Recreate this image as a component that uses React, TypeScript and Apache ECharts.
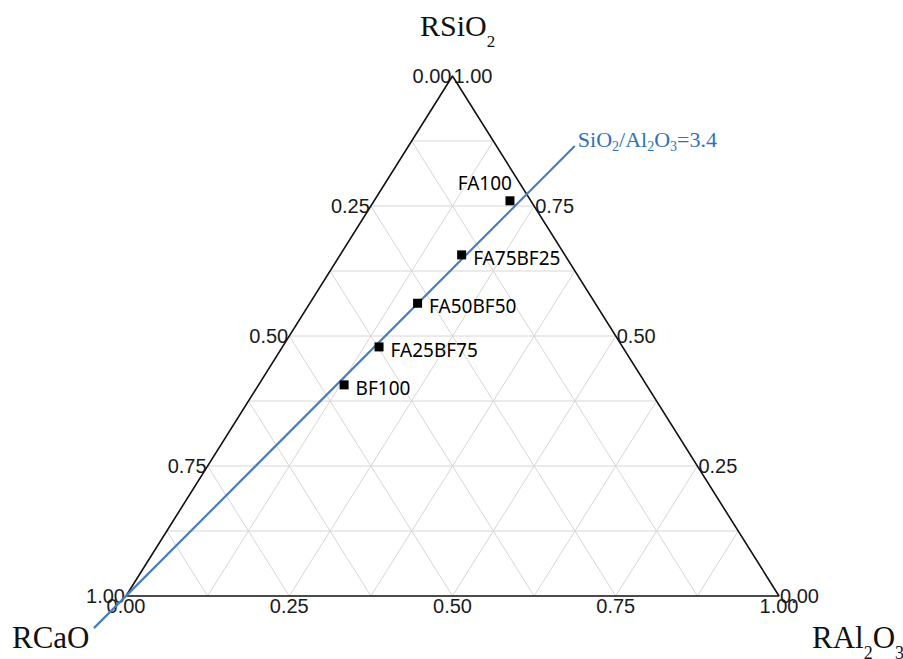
import React, { useEffect, useRef } from "react";
import * as echarts from "echarts";

// Sample compositions (mass fractions, normalised to SiO2 + Al2O3 + CaO = 1)
const sampleNames = ["FA100", "FA75BF25", "FA50BF50", "FA25BF75", "BF100"];
const sio2 = [0.76, 0.656, 0.563, 0.479, 0.406];
const al2o3 = [0.208, 0.186, 0.165, 0.148, 0.131];
const cao = [0.032, 0.158, 0.272, 0.373, 0.463];

// Axis ticks and the finer grid fractions
const axisTicks = [0, 0.25, 0.5, 0.75, 1];
const gridSteps = [0.125, 0.25, 0.375, 0.5, 0.625, 0.75, 0.875];

// Constant SiO2/Al2O3 ratio line through the CaO apex
const ratioValue = 3.4;
const ratioSpan = [-0.08, 1.12]; // range of (SiO2 + Al2O3) along the line

// ternary (SiO2, Al2O3) -> cartesian; CaO apex at (0,0), Al2O3 apex at (1,0), SiO2 apex at (0.5,1)
const toXY = (s: number, a: number): [number, number] => [a + s / 2, s];

const TICK_FONT = "'Liberation Sans', Arial, sans-serif";
const SERIF = "'Liberation Serif', 'Times New Roman', serif";
const LABEL_FONT = "'Noto Sans', 'Open Sans', sans-serif";
const BLUE_LINE = "#4a7ebb";
const BLUE_TEXT = "#2e72b6";

export default function App() {
  const ref = useRef<HTMLDivElement>(null);

  useEffect(() => {
    if (!ref.current) return;
    const chart = echarts.init(ref.current, undefined, { renderer: "svg" });

    // grid segments: constant SiO2, constant Al2O3, constant CaO
    const gridSegs: number[][] = [];
    gridSteps.forEach((f) => {
      const r = 1 - f;
      gridSegs.push([...toXY(f, 0), ...toXY(f, r)]);
      gridSegs.push([...toXY(0, f), ...toXY(r, f)]);
      gridSegs.push([...toXY(r, 0), ...toXY(0, r)]);
    });

    // tick label anchors for the three edges
    const tickItems: any[] = [];
    axisTicks.forEach((v) => {
      // left edge: CaO fraction (Al2O3 = 0)
      tickItems.push({ value: [...toXY(1 - v, 0), v, 0] });
      // right edge: SiO2 fraction (CaO = 0)
      tickItems.push({ value: [...toXY(v, 1 - v), v, 1] });
      // base: Al2O3 fraction (SiO2 = 0)
      tickItems.push({ value: [...toXY(0, v), v, 2] });
    });

    const points = sampleNames.map((name, i) => {
      const item: any = { name, value: toXY(sio2[i], al2o3[i]), cao: cao[i] };
      if (name === "FA100") {
        item.label = {
          position: [6.5, -13.5],
          align: "right",
          verticalAlign: "middle",
          offset: [0, 0],
        };
      }
      return item;
    });

    const [r0, r1] = ratioSpan.map((t) =>
      toXY((t * ratioValue) / (1 + ratioValue), t / (1 + ratioValue))
    );

    const subRich = (size: number, sub: number, lh: number, color: string) => ({
      m: { fontSize: size, fontFamily: SERIF, lineHeight: lh, fill: color },
      s: { fontSize: sub, fontFamily: SERIF, lineHeight: sub, verticalAlign: "bottom", fill: color },
    });

    chart.setOption({
      animation: false,
      backgroundColor: "#ffffff",
      grid: { left: 126, top: 76, width: 653, height: 520 },
      xAxis: { type: "value", min: 0, max: 1, show: false },
      yAxis: { type: "value", min: 0, max: 1, show: false },
      graphic: [
        {
          type: "text",
          x: 420,
          y: 25,
          style: {
            text: "{m|RSiO}{s|2}",
            align: "left",
            verticalAlign: "middle",
            rich: subRich(30, 17, 50, "#111"),
          },
        },
        {
          type: "text",
          x: 12,
          y: 637,
          style: {
            text: "RCaO",
            align: "left",
            verticalAlign: "middle",
            fontSize: 31,
            fontFamily: SERIF,
            fill: "#111",
          },
        },
        {
          type: "text",
          x: 812,
          y: 637,
          style: {
            text: "{m|RAl}{s|2}{m|O}{s|3}",
            align: "left",
            verticalAlign: "middle",
            rich: subRich(31, 18, 50, "#111"),
          },
        },
      ],
      series: [
        {
          type: "custom",
          name: "grid",
          clip: false,
          silent: true,
          z: 1,
          data: gridSegs,
          renderItem: (params: any, api: any) => {
            const p1 = api.coord([api.value(0), api.value(1)]);
            const p2 = api.coord([api.value(2), api.value(3)]);
            return {
              type: "line",
              shape: { x1: p1[0], y1: p1[1], x2: p2[0], y2: p2[1] },
              style: { stroke: "#d6d6d6", lineWidth: 1 },
            };
          },
        },
        {
          type: "line",
          name: "outline",
          clip: false,
          silent: true,
          z: 2,
          symbol: "none",
          lineStyle: { color: "#111", width: 1.6 },
          data: [toXY(0, 0), toXY(0, 1), toXY(1, 0), toXY(0, 0)],
        },
        {
          type: "custom",
          name: "ticks",
          clip: false,
          silent: true,
          z: 3,
          data: tickItems,
          renderItem: (params: any, api: any) => {
            const p = api.coord([api.value(0), api.value(1)]);
            const v = api.value(2);
            const side = api.value(3);
            let x = p[0];
            let y = p[1];
            let align = "left";
            if (side === 0) {
              align = "right";
              x -= 1;
            } else if (side === 1) {
              align = "left";
              x += 1;
            } else {
              align = "center";
              y += 10;
            }
            return {
              type: "text",
              x,
              y,
              style: {
                text: v.toFixed(2),
                fontSize: 20,
                fontFamily: TICK_FONT,
                fill: "#1a1a1a",
                align,
                verticalAlign: "middle",
              },
            };
          },
        },
        {
          type: "custom",
          name: "SiO2/Al2O3",
          clip: false,
          silent: true,
          z: 4,
          data: [[r0[0], r0[1], r1[0], r1[1]]],
          renderItem: (params: any, api: any) => {
            const p1 = api.coord([api.value(0), api.value(1)]);
            const p2 = api.coord([api.value(2), api.value(3)]);
            return {
              type: "group",
              children: [
                {
                  type: "line",
                  shape: { x1: p1[0], y1: p1[1], x2: p2[0], y2: p2[1] },
                  style: { stroke: BLUE_LINE, lineWidth: 2.2 },
                },
                {
                  type: "text",
                  x: p2[0] + 3,
                  y: p2[1] - 6,
                  style: {
                    text: "{m|SiO}{s|2}{m|/Al}{s|2}{m|O}{s|3}{m|=" + ratioValue + "}",
                    align: "left",
                    verticalAlign: "middle",
                    rich: subRich(22, 14, 28, BLUE_TEXT),
                  },
                },
              ],
            };
          },
        },
        {
          type: "scatter",
          name: "samples",
          clip: false,
          z: 5,
          symbol: "rect",
          symbolSize: 9,
          itemStyle: { color: "#000", opacity: 1 },
          label: {
            show: true,
            position: "right",
            distance: 7,
            offset: [0, 3],
            formatter: "{b}",
            fontSize: 19,
            fontFamily: LABEL_FONT,
            color: "#000",
          },
          data: points,
        },
      ],
    });

    return () => chart.dispose();
  }, []);

  return (
    <div
      ref={ref}
      style={{ position: "fixed", left: 0, top: 0, width: 903, height: 659, background: "#fff" }}
    />
  );
}
